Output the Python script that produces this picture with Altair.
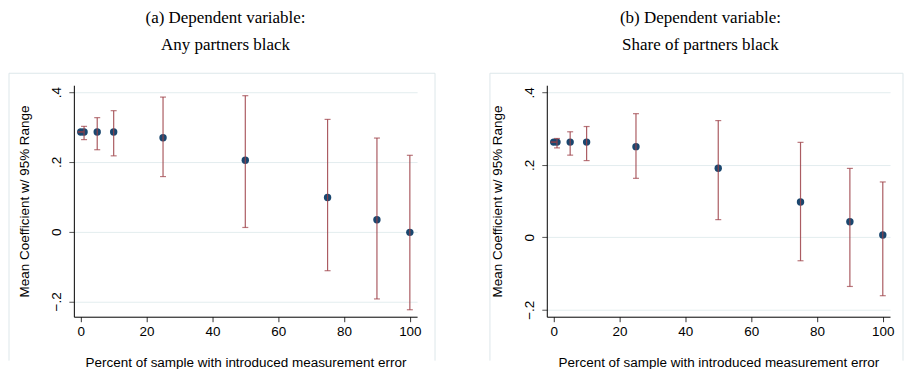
import altair as alt
import pandas as pd

pct = [0, 1, 5, 10, 25, 50, 75, 90, 100]

# Panel (a): Any partners black
a_mean = [0.286, 0.286, 0.286, 0.286, 0.2695, 0.205, 0.098, 0.034, -0.002]
a_lo = [0.286, 0.264, 0.235, 0.2175, 0.158, 0.012, -0.112, -0.193, -0.224]
a_hi = [0.286, 0.302, 0.327, 0.347, 0.386, 0.390, 0.322, 0.2685, 0.219]

# Panel (b): Share of partners black
b_mean = [0.263, 0.263, 0.263, 0.263, 0.2505, 0.191, 0.0975, 0.043, 0.0064]
b_lo = [0.263, 0.247, 0.227, 0.212, 0.163, 0.049, -0.0645, -0.1355, -0.161]
b_hi = [0.263, 0.273, 0.2915, 0.306, 0.3415, 0.3224, 0.2623, 0.1904, 0.153]

titles = [["(a) Dependent variable:", "Any partners black"],
          ["(b) Dependent variable:", "Share of partners black"]]
y_ticks = [-0.2, 0, 0.2, 0.4]
x_ticks = [0, 20, 40, 60, 80, 100]

SANS = "Liberation Sans"
SERIF = "Liberation Serif"
NAVY = "#1a476f"
RED = "#9c3f46"
FRAME = "#dde7ea"
W = 344
H = 232


def panel(mean, lo, hi, title, ydom, dx, fx1, fx2):
    df = pd.DataFrame({"pct": pct, "mean": mean, "lo": lo, "hi": hi})
    base = alt.Chart(df)
    x = alt.X("pct:Q", scale=alt.Scale(domain=[-2.1, 102.2], nice=False, zero=False),
              axis=alt.Axis(values=x_ticks, title="Percent of sample with introduced measurement error",
                            grid=False, labelFont=SANS, titleFont=SANS, labelFontSize=13.5,
                            titleFontSize=13.5, titleFontWeight="normal", labelColor="black",
                            titleColor="black", domainColor="black", tickColor="#333",
                            tickSize=5, labelPadding=3, titlePadding=17, labelFlush=False))
    y = alt.Y("mean:Q", scale=alt.Scale(domain=ydom, nice=False, zero=False),
              axis=alt.Axis(values=y_ticks, title="Mean Coefficient w/ 95% Range",
                            labelExpr="datum.value == 0 ? '0' : replace(format(datum.value, '.1f'), '0.', '.')",
                            labelAngle=270, labelAlign="center", labelBaseline="bottom",
                            grid=True, gridColor="#e3edef", gridWidth=1,
                            labelFont=SANS, titleFont=SANS, labelFontSize=13.5,
                            titleFontSize=13.5, titleFontWeight="normal", labelColor="black",
                            titleColor="black", domainColor="black", tickColor="#555",
                            tickSize=5, labelPadding=5, titlePadding=18))
    one = base.transform_filter("datum.pct == 0")
    f_top = one.mark_rule(color=FRAME, strokeWidth=1).encode(
        x=alt.value(fx1), x2=alt.value(fx2), y=alt.value(-12))
    f_left = one.mark_rule(color=FRAME, strokeWidth=1).encode(
        x=alt.value(fx1), y=alt.value(-12), y2=alt.value(H + 44))
    layers = [f_top, f_left]
    if fx2 < W + 30:
        layers.append(one.mark_rule(color=FRAME, strokeWidth=1).encode(
            x=alt.value(fx2), y=alt.value(-12), y2=alt.value(H + 44)))
    rules = base.mark_rule(color=RED, strokeWidth=1.2, opacity=0.85).encode(
        x="pct:Q", y="lo:Q", y2="hi:Q")
    cap_lo = base.mark_tick(color=RED, orient="horizontal", size=6, thickness=1.2).encode(
        x="pct:Q", y="lo:Q")
    cap_hi = base.mark_tick(color=RED, orient="horizontal", size=6, thickness=1.2).encode(
        x="pct:Q", y="hi:Q")
    pts = base.mark_point(filled=True, shape="circle", size=55, color=NAVY, opacity=1).encode(
        x=x, y=y)
    layers += [pts, rules, cap_lo, cap_hi]
    return alt.layer(*layers).properties(
        width=W, height=H,
        title=alt.TitleParams(title, font=SERIF, fontSize=17, fontWeight="normal",
                              anchor="middle", dx=dx, offset=19, lineHeight=27, color="black"))


left = panel(a_mean, a_lo, a_hi, titles[0], [-0.244, 0.42], -20, -65, 362)
right = panel(b_mean, b_lo, b_hi, titles[1], [-0.219, 0.42], -18, -57, 357)

chart = alt.hconcat(left, right, spacing=130, bounds="flush").configure_view(
    stroke=None).properties(padding=0, background="white")

chart.save("out.html", embed_options={"renderer": "svg", "actions": False})
